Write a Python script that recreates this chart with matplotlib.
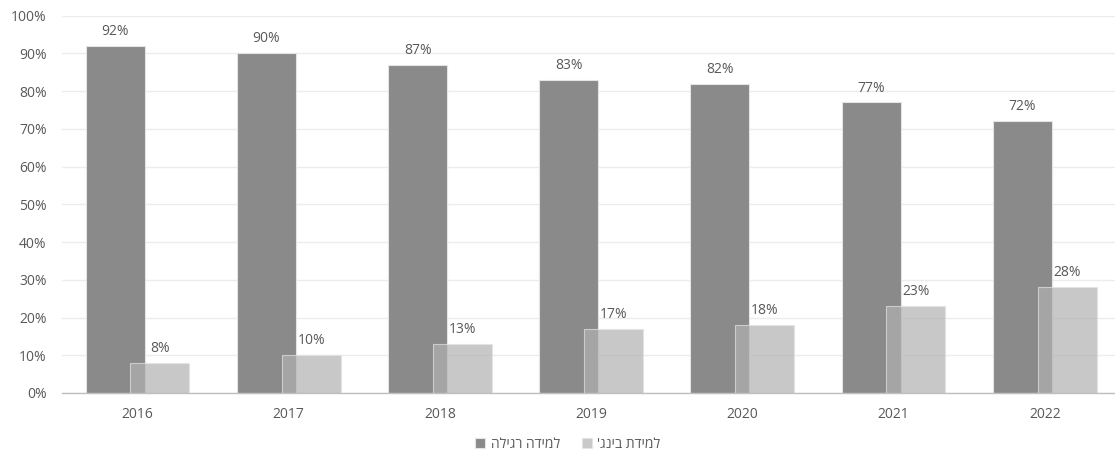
import matplotlib
matplotlib.use("Agg")
import matplotlib.pyplot as plt
import numpy as np

years = ["2016", "2017", "2018", "2019", "2020", "2021", "2022"]
regular = [92, 90, 87, 83, 82, 77, 72]   # למידה רגילה
binge = [8, 10, 13, 17, 18, 23, 28]      # למידת בינג'

label_regular = "למידה רגילה"
label_binge = "למידת בינג'"


def visual(s):
    # matplotlib has no bidi support, so lay Hebrew out right-to-left by hand
    return s[::-1]


plt.rcParams["font.family"] = ["Open Sans", "DejaVu Sans"]
TXT = "#595959"

fig = plt.figure(figsize=(11.15, 4.57), dpi=100)
ax = fig.add_axes([62 / 1115, 64 / 457, (1115 - 62) / 1115, (393 - 15.7) / 457])

x = np.arange(len(years))
w = 0.39
off = 0.148

b1 = ax.bar(x - off, regular, w, color="#8a8a8a", edgecolor="#e4e4e4",
            linewidth=0.8, zorder=2, label=visual(label_regular))
b2 = ax.bar(x + off, binge, w, color="#b1b1b1", alpha=0.7, edgecolor="#e4e4e4",
            linewidth=0.8, zorder=3, label=visual(label_binge))

for bars, vals in ((b1, regular), (b2, binge)):
    for r, v in zip(bars, vals):
        ax.annotate(f"{v}%", (r.get_x() + r.get_width() / 2, v),
                    textcoords="offset points", xytext=(0, 5),
                    ha="center", va="bottom", fontsize=10, color=TXT)

ax.set_ylim(0, 100)
ax.set_xlim(-0.5, 6.465)
ax.set_yticks(range(0, 101, 10))
ax.set_yticklabels([f"{t}%" for t in range(0, 101, 10)])
ax.set_xticks(x)
ax.set_xticklabels(years)
ax.tick_params(axis="both", length=0, labelsize=10, labelcolor=TXT)
ax.tick_params(axis="x", pad=10)
ax.tick_params(axis="y", pad=11)

ax.grid(axis="y", color="#ececec", linewidth=1, zorder=0)
ax.set_axisbelow(True)
for s in ("top", "right", "left"):
    ax.spines[s].set_visible(False)
ax.spines["bottom"].set_color("#bfbfbf")
ax.spines["bottom"].set_linewidth(1)

fig.legend(handles=[b1, b2], loc="center", bbox_to_anchor=(568 / 1115, 1 - 444 / 457),
           ncol=2, frameon=False, fontsize=10, labelcolor=TXT,
           handlelength=0.7, handleheight=0.7, handletextpad=0.4, columnspacing=1.6)

fig.savefig("out.png", dpi=100)
